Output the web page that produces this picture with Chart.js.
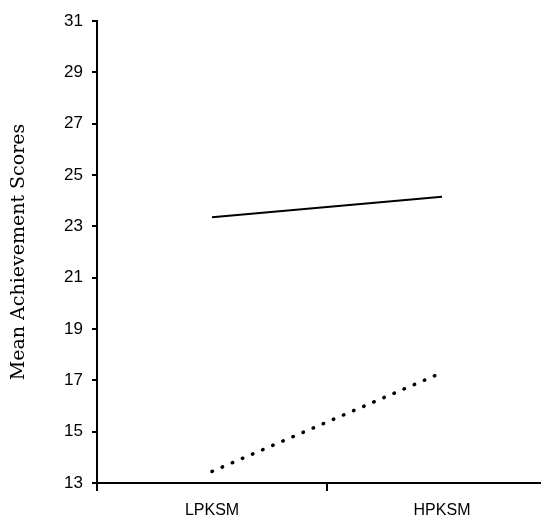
<!DOCTYPE html>
<html>
<head>
<meta charset="utf-8">
<script src="https://cdn.jsdelivr.net/npm/chart.js@4/dist/chart.umd.min.js"></script>
<style>
  html, body { margin: 0; padding: 0; background: #fff; }
  #wrap { width: 546px; height: 524px; }
</style>
</head>
<body>
<div id="wrap"><canvas id="scoreChart"></canvas></div>
<script>
// groups on the x axis and mean scores per group
const groups = ['LPKSM', 'HPKSM'];
const solidScores = [23.35, 24.15];
const dottedScores = [13.45, 17.3];
const yTicks = [13, 15, 17, 19, 21, 23, 25, 27, 29, 31];

const toPoints = arr => arr.map((v, i) => ({ x: i, y: v }));

new Chart(document.getElementById('scoreChart').getContext('2d'), {
    type: 'line',
    data: {
        datasets: [
            { label: 'Solid', data: toPoints(solidScores), borderColor: '#000', borderWidth: 2, pointRadius: 0, fill: false, tension: 0 },
            { label: 'Dotted', data: toPoints(dottedScores), borderColor: '#000', borderWidth: 3.5, borderDash: [0.5, 10.5], borderCapStyle: 'round', pointRadius: 0, fill: false, tension: 0 }
        ]
    },
    options: {
        responsive: true,
        maintainAspectRatio: false,
        animation: false,
        layout: { padding: { top: 21, right: 6, left: 0, bottom: 0 } },
        plugins: { legend: { display: false }, tooltip: { enabled: false } },
        scales: {
            x: {
                type: 'linear',
                min: -0.5,
                max: 1.426,
                afterBuildTicks: s => { s.ticks = [-0.5, 0, 0.5, 1].map(v => ({ value: v })); },
                afterFit: s => { s.height = 41; },
                border: { color: '#000', width: 2 },
                grid: {
                    drawOnChartArea: false,
                    tickLength: 8,
                    lineWidth: 2,
                    color: ctx => (ctx.tick && Number.isInteger(ctx.tick.value)) ? 'rgba(0,0,0,0)' : '#000'
                },
                ticks: {
                    autoSkip: false,
                    maxRotation: 0,
                    padding: 10,
                    color: '#000',
                    font: { family: 'Liberation Sans, Arial', size: 16 },
                    callback: v => Number.isInteger(v) ? groups[v] : ''
                }
            },
            y: {
                min: 13,
                max: 31,
                afterBuildTicks: s => { s.ticks = yTicks.map(v => ({ value: v })); },
                afterFit: s => { s.width = 97; },
                border: { color: '#000', width: 2 },
                grid: { drawOnChartArea: false, tickLength: 5, lineWidth: 2, color: '#000' },
                ticks: {
                    padding: 9,
                    color: '#000',
                    font: { family: 'Liberation Sans, Arial', size: 17 }
                },
                title: {
                    display: true,
                    text: 'Mean Achievement Scores',
                    color: '#000',
                    padding: { top: 8, bottom: 0 },
                    font: { family: 'DejaVu Serif', size: 19 }
                }
            }
        }
    }
});
</script>
</body>
</html>
